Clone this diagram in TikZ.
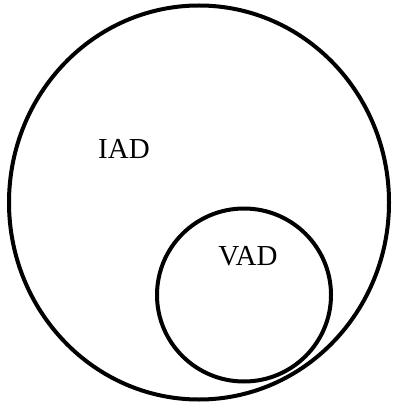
\documentclass[tikz,border=0pt]{standalone}
\usepackage{fontspec}
\setmainfont{Liberation Serif}
\begin{document}
\begin{tikzpicture}[x=1pt,y=-1pt,
  ring/.style={draw=black,line width=4pt},
  lbl/.style={font=\fontsize{29}{31}\selectfont,inner sep=0pt}]
\useasboundingbox (0,0) rectangle (395,403);
\draw[ring] (199,202.5) ellipse [x radius=190, y radius=197];
\draw[ring] (244,295) ellipse [x radius=87, y radius=86.5];
\node[lbl] (iad) at (124,149) {IAD};
\node[lbl] (vad) at (248,256) {VAD};
\end{tikzpicture}
\end{document}
